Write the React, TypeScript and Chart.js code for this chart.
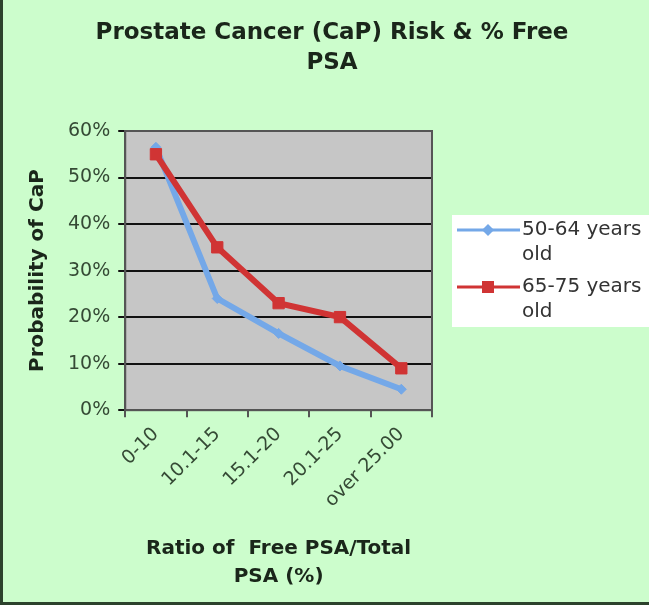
import React, { useEffect, useRef } from "react";
import { Chart, registerables } from "chart.js";

Chart.register(...registerables);

const categories = ["0-10", "10.1-15", "15.1-20", "20.1-25", "over 25.00"];
const series1Name = ["50-64 years", "old"];
const series2Name = ["65-75 years", "old"];
const series1 = [56.5, 24, 16.5, 9.5, 4.5];
const series2 = [55, 35, 23, 20, 9];
const yTicks = [0, 10, 20, 30, 40, 50, 60];
const titleLines = ["Prostate Cancer (CaP) Risk & % Free", "PSA"];
const xTitle = ["Ratio of  Free PSA/Total", "PSA (%)"];
const yTitle = "Probability of CaP";

const BLUE = "#74a8e8";
const RED = "#d03434";
const BG = "#ccfdcc";
const PLOT = "#c6c6c6";
const TXT = "#1a261a";
const TICK = "#354a35";
const FONT = "'DejaVu Sans', Verdana, sans-serif";

const decorPlugin = {
  id: "decor",
  beforeDraw(chart: any) {
    const { ctx, chartArea: a, width, height } = chart;
    ctx.save();
    ctx.fillStyle = BG;
    ctx.fillRect(0, 0, width, height);
    ctx.fillStyle = PLOT;
    ctx.fillRect(a.left, a.top, a.right - a.left, a.bottom - a.top);
    ctx.fillStyle = "#2c422c";
    ctx.fillRect(0, 0, 3, height);
    ctx.fillRect(0, height - 3, width, 3);
    ctx.restore();
  },
  afterDraw(chart: any) {
    const { ctx, chartArea: a } = chart;
    ctx.save();
    ctx.strokeStyle = "#555";
    ctx.lineWidth = 2;
    ctx.strokeRect(a.left, a.top, a.right - a.left, a.bottom - a.top);
    ctx.fillStyle = TXT;
    ctx.font = `bold 23px ${FONT}`;
    ctx.textAlign = "center";
    ctx.textBaseline = "middle";
    ctx.fillText(titleLines[0], 332, 33);
    ctx.fillText(titleLines[1], 332, 63);
    ctx.fillStyle = "#ffffff";
    ctx.fillRect(452, 215, 197, 112);
    const items = [
      { name: series1Name, color: BLUE, style: "diamond", y: 230 },
      { name: series2Name, color: RED, style: "square", y: 287 },
    ];
    ctx.font = `20px ${FONT}`;
    ctx.textAlign = "left";
    for (const it of items) {
      ctx.strokeStyle = it.color;
      ctx.lineWidth = 3;
      ctx.beginPath();
      ctx.moveTo(457, it.y);
      ctx.lineTo(520, it.y);
      ctx.stroke();
      ctx.fillStyle = it.color;
      if (it.style === "diamond") {
        ctx.beginPath();
        ctx.moveTo(488, it.y - 6);
        ctx.lineTo(494, it.y);
        ctx.lineTo(488, it.y + 6);
        ctx.lineTo(482, it.y);
        ctx.closePath();
        ctx.fill();
      } else {
        ctx.fillRect(482, it.y - 6, 12, 12);
      }
      ctx.fillStyle = "#333";
      ctx.fillText(it.name[0], 522, it.y);
      ctx.fillText(it.name[1], 522, it.y + 25);
    }
    ctx.restore();
  },
};

export default function App() {
  const ref = useRef<HTMLCanvasElement>(null);
  useEffect(() => {
    if (!ref.current) return;
    const chart = new Chart(ref.current, {
      type: "line",
      data: {
        labels: categories,
        datasets: [
          {
            label: series1Name.join(" "),
            data: series1,
            borderColor: BLUE,
            backgroundColor: BLUE,
            borderWidth: 6,
            pointStyle: "rectRot",
            pointRadius: 5,
            pointBorderWidth: 1,
            tension: 0,
            order: 1,
          },
          {
            label: series2Name.join(" "),
            data: series2,
            borderColor: RED,
            backgroundColor: RED,
            borderWidth: 6,
            pointStyle: "rect",
            pointRadius: 8,
            pointBorderWidth: 1,
            tension: 0,
            order: 0,
          },
        ],
      },
      options: {
        responsive: false,
        animation: false,
        layout: { padding: { top: 131, left: 26, right: 217, bottom: 14 } },
        plugins: { legend: { display: false }, title: { display: false }, tooltip: { enabled: false } },
        scales: {
          x: {
            offset: true,
            grid: { offset: true, drawOnChartArea: false, tickLength: 7, color: "#555", lineWidth: 2 },
            border: { color: "#555", width: 2 },
            ticks: { minRotation: 45, maxRotation: 45, font: { family: FONT, size: 19 }, color: TICK, padding: 6 },
            title: {
              display: true,
              text: xTitle,
              font: { family: FONT, size: 20, weight: "bold", lineHeight: 1.4 },
              color: TXT,
              padding: { top: 17, bottom: 0 },
            },
          },
          y: {
            min: 0,
            max: 60,
            afterBuildTicks(scale: any) {
              scale.ticks = yTicks.map((v) => ({ value: v }));
            },
            grid: { color: "#111", lineWidth: 2, tickLength: 7 },
            border: { color: "#555", width: 2 },
            ticks: {
              font: { family: FONT, size: 19 },
              color: TICK,
              padding: 8,
              callback: (v: any) => v + "%",
            },
            title: {
              display: true,
              text: yTitle,
              font: { family: FONT, size: 20, weight: "bold" },
              color: TXT,
              padding: { top: 0, bottom: 10 },
            },
          },
        },
      },
      plugins: [decorPlugin],
    });
    return () => chart.destroy();
  }, []);
  return (
    <div style={{ position: "absolute", left: 0, top: 0, width: 649, height: 605 }}>
      <canvas ref={ref} width={649} height={605} style={{ display: "block" }} />
    </div>
  );
}
